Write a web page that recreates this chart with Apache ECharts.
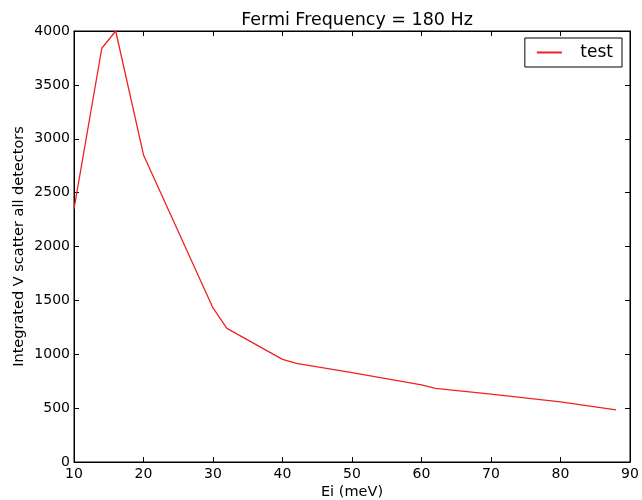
<!DOCTYPE html>
<html><head><meta charset="utf-8">
<script src="https://cdn.jsdelivr.net/npm/echarts@6/dist/echarts.min.js"></script>
<style>html,body{margin:0;padding:0;background:#fff}#c{width:642px;height:500px}</style>
</head><body><div id="c"></div>
<script>
const ei = [10, 14, 16, 20, 30, 32, 40, 42, 50, 60, 62, 70, 80, 88];
const vScatter = [2350, 3840, 4000, 2850, 1430, 1240, 953, 916, 829, 715, 684, 630, 558, 483];
const titleText = 'Fermi Frequency = 180 Hz';
const seriesName = 'test';
const xLabel = 'Ei (meV)';
const yLabel = 'Integrated V scatter all detectors';

const font = 'DejaVu Sans';
const chart = echarts.init(document.getElementById('c'));
const tickStyle = {show: true, inside: true, length: 5, lineStyle: {color: '#000', width: 1}};
const fmt = v => String(v);
chart.setOption({
  animation: false,
  title: {text: titleText, left: 352, top: 6, textAlign: 'center',
    textStyle: {fontFamily: font, fontSize: 17.5, fontWeight: 'normal', color: '#000'}},
  legend: {data: [{name: seriesName, icon: 'path://M0,0 L1,0 L1,0.08 L0,0.08 Z'}], right: 20, top: 38, orient: 'vertical',
    itemWidth: 26, itemHeight: 2, itemGap: 0,
    padding: [6, 9, 6, 12], borderColor: '#000', borderWidth: 1, borderRadius: 0,
    textStyle: {fontFamily: font, fontSize: 17, color: '#000', padding: [0, 0, 0, 13]}},
  grid: {left: 74, right: 12, top: 31, bottom: 38, show: true, borderColor: '#000', borderWidth: 1,
    containLabel: false, outerBoundsMode: 'none'},
  xAxis: [{type: 'value', min: 10, max: 90, interval: 10, name: xLabel, nameLocation: 'middle', nameGap: 23,
    nameMoveOverlap: false,
    nameTextStyle: {fontFamily: font, fontSize: 14.5, color: '#000'},
    axisLine: {show: true, onZero: false, lineStyle: {color: '#000'}}, axisTick: tickStyle,
    axisLabel: {fontFamily: font, fontSize: 14, color: '#000', margin: 5, formatter: fmt}, splitLine: {show: false}},
    {type: 'value', position: 'top', min: 10, max: 90, interval: 10,
    axisLine: {show: true, onZero: false, lineStyle: {color: '#000'}}, axisTick: tickStyle,
    axisLabel: {show: false}, splitLine: {show: false}}],
  yAxis: [{type: 'value', min: 0, max: 4000, interval: 500, name: yLabel, nameLocation: 'middle', nameGap: 47,
    nameMoveOverlap: false,
    nameTextStyle: {fontFamily: font, fontSize: 14.5, color: '#000'},
    axisLine: {show: true, onZero: false, lineStyle: {color: '#000'}}, axisTick: tickStyle,
    axisLabel: {fontFamily: font, fontSize: 14, color: '#000', margin: 4, formatter: fmt}, splitLine: {show: false}},
    {type: 'value', position: 'right', min: 0, max: 4000, interval: 500,
    axisLine: {show: true, onZero: false, lineStyle: {color: '#000'}}, axisTick: tickStyle,
    axisLabel: {show: false}, splitLine: {show: false}}],
  series: [{name: seriesName, type: 'line', data: ei.map((x, i) => [x, vScatter[i]]),
    showSymbol: false, symbol: 'none', lineStyle: {color: '#ee2222', width: 1.3}, itemStyle: {color: '#ee2222'}}]
});
</script></body></html>
